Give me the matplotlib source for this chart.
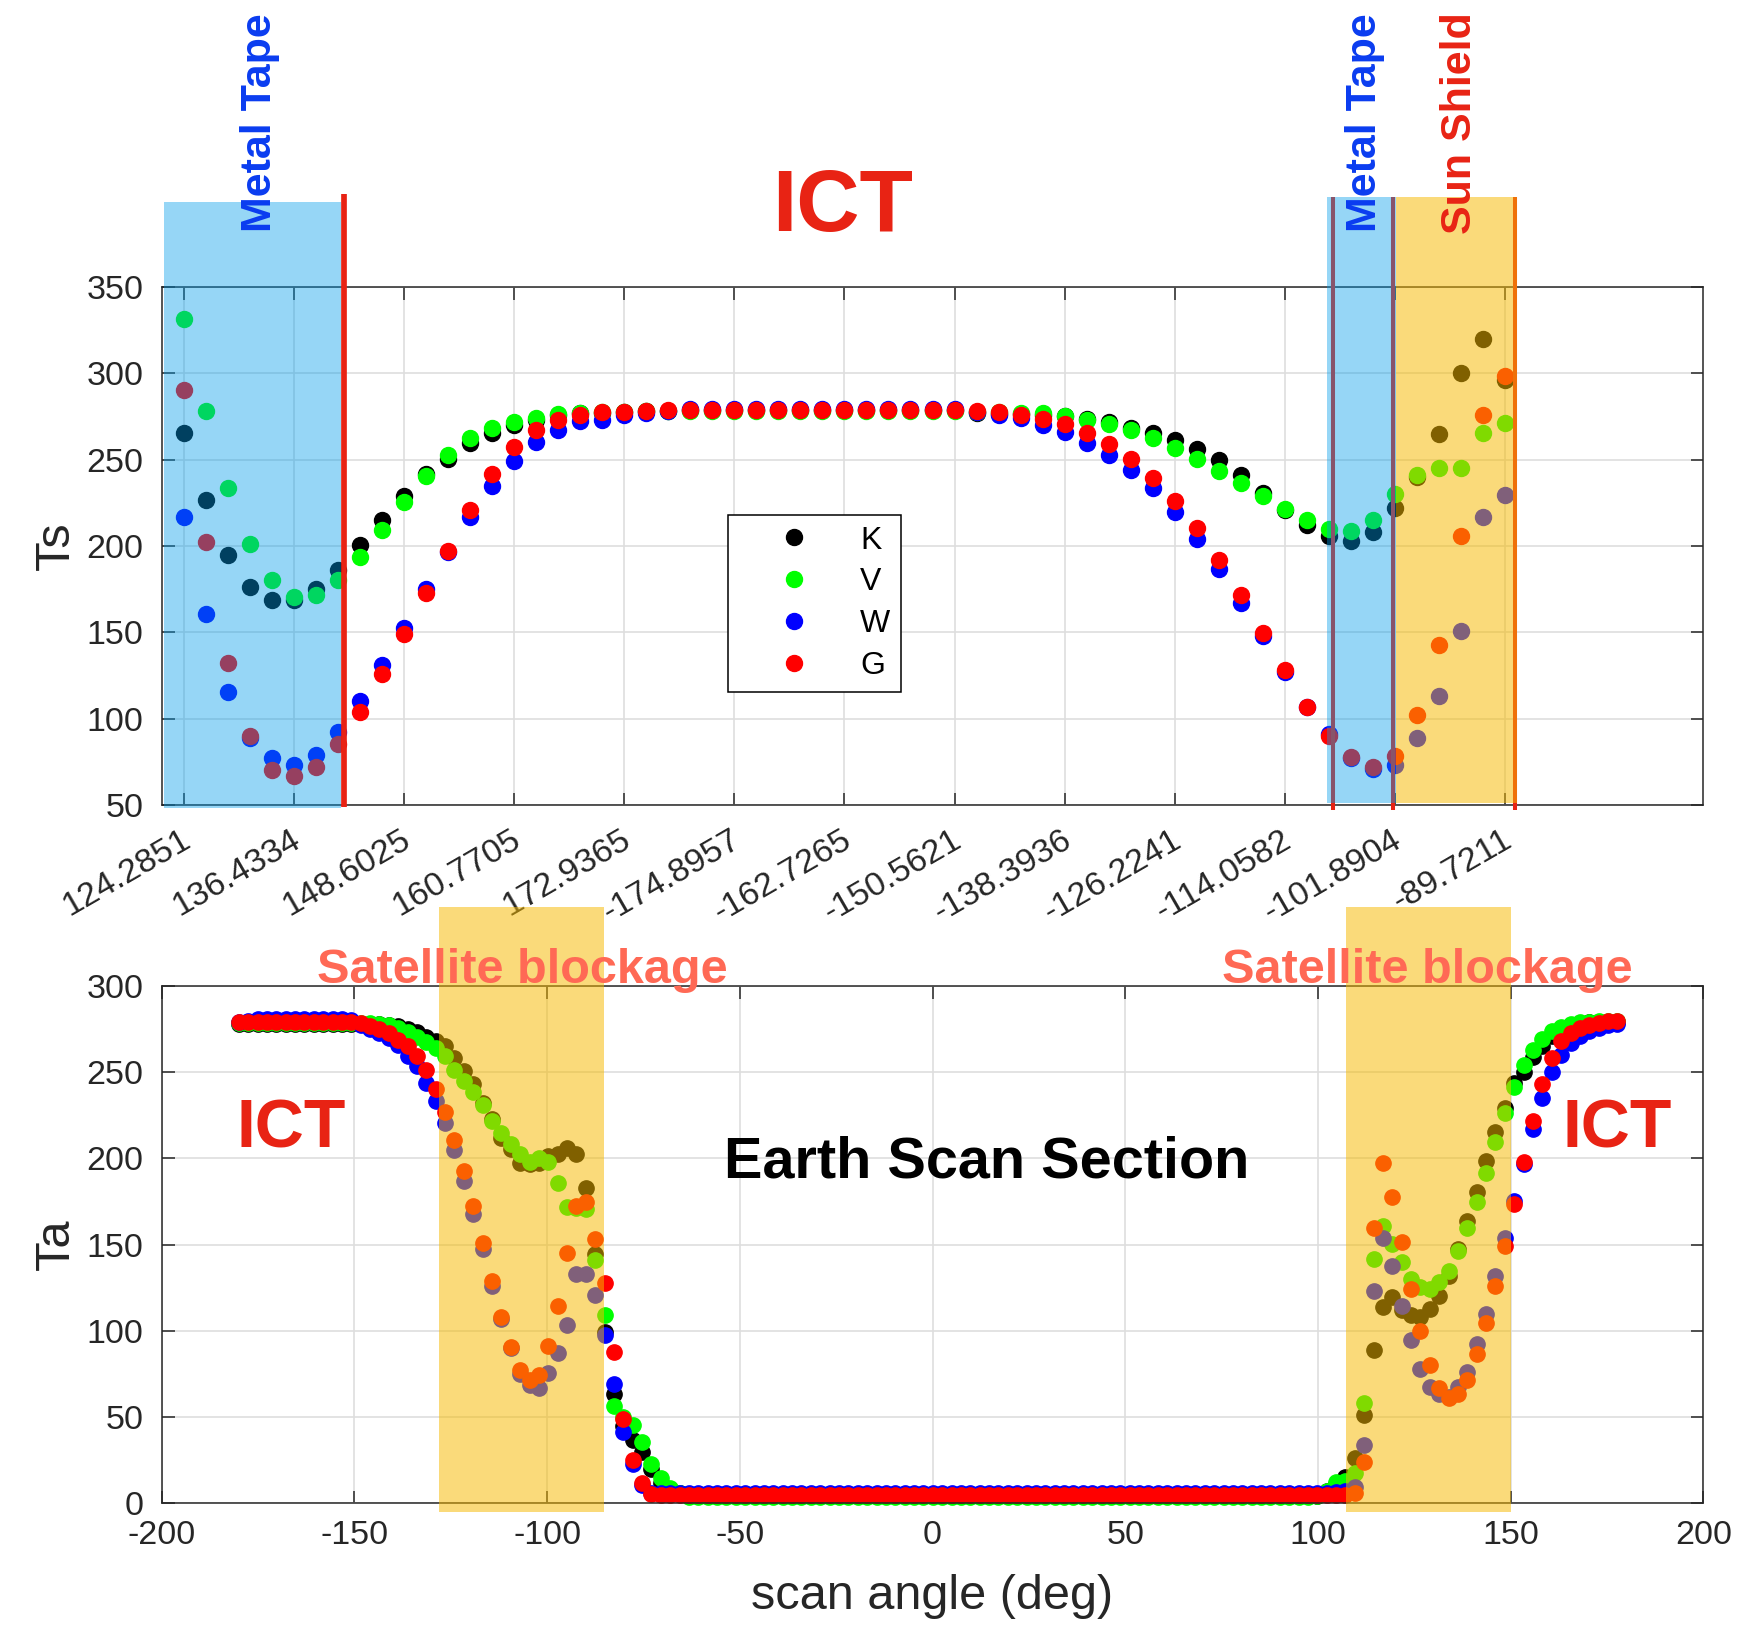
import numpy as np
import matplotlib.pyplot as plt
from matplotlib.patches import Rectangle
from matplotlib.transforms import ScaledTranslation

plt.rcParams['font.family'] = ['Liberation Sans', 'DejaVu Sans']
plt.rcParams['axes.unicode_minus'] = False

channels = ['K', 'V', 'W', 'G']
channel_colors = ['#000000', '#00ff00', '#0000ff', '#ff0000']

# --- ICT view: Ts per sample (61 samples), every 5th labelled by scan angle
ts_tick_labels = ['124.2851', '136.4334', '148.6025', '160.7705', '172.9365',
                  '-174.8957', '-162.7265', '-150.5621', '-138.3936', '-126.2241',
                  '-114.0582', '-101.8904', '-89.7211']

ts_k = [265.4, 226.9, 194.5, 176.4, 168.7, 168.5, 175.2, 186.0, 200.3, 215.3,
        228.8, 241.7, 250.5, 259.6, 265.4, 270.2, 273.0, 275.8, 277.0, 277.0,
        277.5, 278.0, 278.3, 278.5, 278.5, 278.5, 278.5, 278.5, 278.5, 278.5,
        278.5, 278.5, 278.5, 278.5, 278.5, 278.5, 277.0, 276.5, 276.5, 276.0,
        275.0, 273.7, 271.6, 268.3, 265.4, 261.2, 256.4, 250.0, 241.3, 230.7,
        221.0, 212.4, 205.7, 202.8, 208.0, 222.2, 240.0, 265.0, 300.1, 320.0,
        295.9]
ts_v = [331.5, 278.3, 233.6, 201.4, 180.2, 170.6, 171.6, 180.2, 193.5, 209.0,
        225.3, 240.7, 252.5, 262.5, 268.3, 271.6, 274.1, 276.4, 277.0, 277.4,
        277.6, 278.0, 278.0, 278.3, 278.3, 278.3, 278.3, 278.3, 278.3, 278.3,
        278.3, 278.3, 278.3, 278.3, 278.3, 278.3, 277.7, 277.4, 277.0, 277.0,
        275.4, 272.7, 270.8, 267.0, 262.5, 256.7, 250.4, 243.3, 236.5, 229.2,
        221.5, 215.3, 210.1, 208.6, 215.3, 229.9, 241.3, 245.4, 245.4, 265.4,
        271.2]
ts_w = [216.7, 160.4, 115.7, 89.0, 77.0, 73.3, 79.0, 92.4, 110.3, 131.0,
        152.7, 174.9, 196.7, 216.7, 234.6, 249.4, 260.0, 267.0, 272.2, 273.1,
        276.0, 277.0, 278.0, 279.5, 279.5, 279.5, 279.5, 279.5, 279.5, 279.5,
        279.5, 279.5, 279.5, 279.5, 279.5, 279.5, 277.5, 276.0, 274.0, 270.2,
        265.8, 259.6, 252.9, 244.2, 233.6, 219.6, 204.3, 186.4, 167.2, 148.0,
        127.0, 107.0, 91.0, 77.0, 70.8, 73.0, 88.7, 113.0, 151.0, 216.9,
        229.8]
ts_g = [290.5, 202.6, 132.5, 90.1, 70.4, 67.0, 72.2, 85.6, 104.0, 125.7,
        148.8, 173.0, 197.0, 221.1, 241.9, 257.3, 267.3, 272.7, 276.0, 277.4,
        277.6, 278.3, 278.5, 279.0, 279.0, 279.0, 279.0, 279.0, 279.0, 279.0,
        279.0, 279.0, 279.0, 279.0, 279.0, 279.0, 278.0, 277.4, 276.0, 273.5,
        270.8, 265.4, 259.2, 250.4, 239.4, 226.3, 210.5, 191.8, 171.4, 149.8,
        128.0, 107.0, 90.1, 77.6, 71.8, 78.5, 102.0, 142.7, 205.7, 276.0,
        298.6]

# --- full scan: Ta per sample, first sample at -180 deg, 2.4334 deg apart
scan_start = -180.0
scan_step = 2.4334

ta_k = [278.0, 278.0, 278.0, 278.0, 278.0, 278.0, 278.0, 278.0, 278.0, 278.0,
        278.0, 278.0, 278.0, 278.0, 278.0, 278.0, 277.5, 276.5, 275.0, 273.0,
        270.5, 267.8, 265.0, 258.2, 250.5, 242.8, 232.2, 222.5, 212.0, 205.2,
        197.5, 196.5, 197.5, 201.3, 202.3, 206.2, 202.3, 182.5, 144.5, 99.0,
        63.6, 45.0, 36.6, 29.9, 20.0, 12.0, 8.0, 6.0, 4.0, 4.0,
        4.0, 4.0, 4.0, 4.0, 4.0, 4.0, 4.0, 4.0, 4.0, 4.0,
        4.0, 4.0, 4.0, 4.0, 4.0, 4.0, 4.0, 4.0, 4.0, 4.0,
        4.0, 4.0, 4.0, 4.0, 4.0, 4.0, 4.0, 4.0, 4.0, 4.0,
        4.0, 4.0, 4.0, 4.0, 4.0, 4.0, 4.0, 4.0, 4.0, 4.0,
        4.0, 4.0, 4.0, 4.0, 4.0, 4.0, 4.0, 4.0, 4.0, 4.0,
        4.0, 4.0, 4.0, 4.0, 4.0, 4.0, 4.0, 4.0, 4.0, 4.0,
        4.0, 4.0, 4.0, 4.0, 4.0, 4.5, 7.0, 11.0, 15.4, 26.0,
        51.0, 88.6, 113.7, 119.5, 111.8, 108.9, 107.9, 112.7, 120.4, 132.0,
        147.4, 163.8, 180.2, 198.5, 215.2, 229.3, 243.4, 250.0, 258.8, 265.0,
        270.7, 275.0, 277.5, 278.5, 279.0, 279.2, 279.2, 279.2]
ta_v = [278.3, 278.3, 278.3, 278.3, 278.3, 278.3, 278.3, 278.3, 278.3, 278.3,
        278.3, 278.3, 278.3, 278.5, 278.3, 277.8, 277.0, 275.5, 273.0, 270.5,
        267.5, 264.0, 259.0, 251.4, 244.7, 238.3, 230.6, 221.6, 214.8, 208.1,
        202.3, 197.9, 200.4, 198.1, 185.9, 171.5, 171.0, 170.5, 141.2, 109.2,
        56.5, 50.0, 45.3, 35.5, 23.0, 14.5, 9.0, 6.0, 3.5, 3.5,
        3.5, 3.5, 3.5, 3.5, 3.5, 3.5, 3.5, 3.5, 3.5, 3.5,
        3.5, 3.5, 3.5, 3.5, 3.5, 3.5, 3.5, 3.5, 3.5, 3.5,
        3.5, 3.5, 3.5, 3.5, 3.5, 3.5, 3.5, 3.5, 3.5, 3.5,
        3.5, 3.5, 3.5, 3.5, 3.5, 3.5, 3.5, 3.5, 3.5, 3.5,
        3.5, 3.5, 3.5, 3.5, 3.5, 3.5, 3.5, 3.5, 3.5, 3.5,
        3.5, 3.5, 3.5, 3.5, 3.5, 3.5, 3.5, 3.5, 3.5, 3.5,
        3.5, 3.5, 3.5, 3.5, 3.5, 4.5, 7.0, 12.5, 13.0, 17.3,
        58.2, 141.6, 160.9, 150.3, 139.7, 130.1, 125.2, 124.3, 128.1, 134.9,
        146.4, 159.3, 174.8, 191.7, 209.4, 226.4, 241.2, 253.8, 263.0, 269.2,
        273.6, 276.1, 278.0, 278.8, 279.2, 279.4, 279.5, 279.5]
ta_w = [279.2, 279.5, 280.5, 280.5, 280.5, 280.5, 280.5, 280.5, 280.5, 280.5,
        280.5, 280.5, 280.0, 277.5, 275.0, 272.6, 269.7, 265.9, 259.0, 253.4,
        243.7, 233.1, 220.6, 204.8, 186.9, 167.6, 147.4, 126.2, 107.0, 90.0,
        75.0, 68.4, 66.9, 75.5, 87.1, 103.5, 133.0, 133.0, 120.8, 97.7,
        69.4, 41.4, 23.0, 10.6, 6.0, 5.8, 5.8, 5.8, 5.8, 5.8,
        5.8, 5.8, 5.8, 5.8, 5.8, 5.8, 5.8, 5.8, 5.8, 5.8,
        5.8, 5.8, 5.8, 5.8, 5.8, 5.8, 5.8, 5.8, 5.8, 5.8,
        5.8, 5.8, 5.8, 5.8, 5.8, 5.8, 5.8, 5.8, 5.8, 5.8,
        5.8, 5.8, 5.8, 5.8, 5.8, 5.8, 5.8, 5.8, 5.8, 5.8,
        5.8, 5.8, 5.8, 5.8, 5.8, 5.8, 5.8, 5.8, 5.8, 5.8,
        5.8, 5.8, 5.8, 5.8, 5.8, 5.8, 5.8, 5.8, 5.8, 5.8,
        5.8, 5.8, 5.8, 5.8, 5.8, 5.8, 6.0, 6.5, 7.0, 9.6,
        33.7, 123.3, 153.8, 137.8, 114.6, 94.4, 78.0, 67.4, 63.6, 61.7,
        67.4, 76.1, 92.5, 109.8, 132.0, 153.6, 175.3, 196.5, 216.8, 235.0,
        249.9, 260.1, 266.9, 270.7, 273.5, 275.5, 277.0, 278.0]
ta_g = [279.0, 279.0, 279.0, 279.0, 279.0, 279.0, 279.0, 279.0, 279.0, 279.0,
        279.0, 279.0, 279.0, 278.4, 276.9, 275.0, 272.6, 268.8, 265.0, 259.0,
        251.4, 240.3, 226.8, 210.6, 192.5, 172.3, 150.9, 128.7, 107.9, 90.6,
        77.1, 71.3, 74.6, 90.9, 114.1, 145.1, 172.4, 174.4, 153.2, 127.6,
        87.7, 49.1, 25.0, 11.5, 5.5, 5.0, 5.0, 5.0, 5.0, 5.0,
        5.0, 5.0, 5.0, 5.0, 5.0, 5.0, 5.0, 5.0, 5.0, 5.0,
        5.0, 5.0, 5.0, 5.0, 5.0, 5.0, 5.0, 5.0, 5.0, 5.0,
        5.0, 5.0, 5.0, 5.0, 5.0, 5.0, 5.0, 5.0, 5.0, 5.0,
        5.0, 5.0, 5.0, 5.0, 5.0, 5.0, 5.0, 5.0, 5.0, 5.0,
        5.0, 5.0, 5.0, 5.0, 5.0, 5.0, 5.0, 5.0, 5.0, 5.0,
        5.0, 5.0, 5.0, 5.0, 5.0, 5.0, 5.0, 5.0, 5.0, 5.0,
        5.0, 5.0, 5.0, 5.0, 5.0, 5.0, 5.0, 5.0, 5.0, 5.8,
        24.1, 159.3, 197.5, 177.3, 151.3, 124.3, 99.6, 80.3, 66.9, 61.1,
        63.6, 71.7, 86.7, 104.6, 126.2, 148.9, 173.4, 197.9, 221.6, 242.8,
        258.2, 267.8, 272.6, 275.5, 277.5, 278.5, 279.3, 279.6]

ts_sample = np.arange(1, len(ts_k) + 1)
scan_angle = scan_start + scan_step * np.arange(len(ta_k))

DARK = '#262626'
RED = '#e82314'
BLUE_TXT = '#0a3cf0'
SALMON = '#ff6955'
SPAN_BLUE = '#009cea'
SPAN_YELLOW = '#f6b900'


def style_axes(ax, xpad):
    ax.grid(True, color='#dedede', linewidth=1.2)
    ax.set_axisbelow(True)
    for s in ax.spines.values():
        s.set_color(DARK)
        s.set_linewidth(1.1)
    ax.tick_params(direction='in', top=True, right=True, length=9, width=1.1,
                   color=DARK, labelcolor=DARK, labelsize=24.5)
    ax.tick_params(axis='x', pad=xpad)
    ax.tick_params(axis='y', pad=13)


def span(ax, x0, x1, y0, y1, color, alpha):
    ax.add_patch(Rectangle((x0, y0), x1 - x0, y1 - y0, facecolor=color,
                           edgecolor='none', alpha=alpha, zorder=4, clip_on=False))


def vline(ax, x, y0, y1, lw):
    ax.plot([x, x], [y0, y1], color=RED, lw=lw, zorder=3, clip_on=False,
            solid_capstyle='butt')


fig = plt.figure(figsize=(17.37, 16.25), dpi=100)
ax1 = fig.add_axes([0.0931, 0.5046, 0.8875, 0.3188])
ax2 = fig.add_axes([0.0931, 0.0749, 0.8875, 0.3185])

# ---------------- top panel: Ts vs ICT sample
for vals, name, color in zip([ts_k, ts_v, ts_w, ts_g], channels, channel_colors):
    ax1.plot(ts_sample, vals, 'o', ms=11.5, color=color, mec=color,
             ls='none', label=name, zorder=2)

ax1.set_xlim(0, 70)
ax1.set_ylim(50, 350)
ax1.set_yticks(range(50, 351, 50))
ax1.set_xticks(ts_sample[::5])
ax1.set_xticklabels(ts_tick_labels, rotation=30, ha='right')
style_axes(ax1, xpad=14)
shift = ScaledTranslation(0.12, 0, fig.dpi_scale_trans)
for lab in ax1.get_xticklabels():
    lab.set_transform(lab.get_transform() + shift)

ax1.set_ylabel('Ts', fontsize=35, color=DARK, va='baseline')
ax1.yaxis.set_label_coords(-0.0605, 0.5)

leg = ax1.legend(loc='upper left', bbox_to_anchor=(0.4193, 0.6831),
                 bbox_transform=fig.transFigure, borderaxespad=0,
                 fontsize=23, numpoints=1, handlelength=3.45, handletextpad=0.35,
                 borderpad=0.33, labelspacing=0.375, fancybox=False,
                 framealpha=1, edgecolor='black')
leg.get_frame().set_linewidth(1.1)

# metal tape / sun shield regions
span(ax1, 0.1, 8.15, 48.5, 399, SPAN_BLUE, 0.41)
vline(ax1, 8.27, 49, 404, 4.1)
vline(ax1, 53.2, 47, 402, 2.9)
vline(ax1, 55.92, 47, 402, 2.9)
vline(ax1, 61.45, 47, 402, 2.9)
span(ax1, 52.92, 56.03, 51.3, 402, SPAN_BLUE, 0.41)
span(ax1, 56.03, 61.55, 51.3, 402, SPAN_YELLOW, 0.52)

ax1.text(30.9, 382.7, 'ICT', fontsize=63, fontweight='bold', color=RED,
         ha='center', va='baseline', clip_on=False, zorder=6)
for x, label, color in [(4.95, 'Metal Tape', BLUE_TXT),
                        (55.14, 'Metal Tape', BLUE_TXT),
                        (59.44, 'Sun Shield', RED)]:
    ax1.text(x, 445, label, fontsize=31, fontweight='bold', color=color,
             rotation=90, rotation_mode='anchor', ha='center', va='baseline',
             clip_on=False, zorder=6)

# ---------------- bottom panel: Ta vs scan angle
for vals, name, color in zip([ta_k, ta_v, ta_w, ta_g], channels, channel_colors):
    ax2.plot(scan_angle, vals, 'o', ms=11, color=color, mec=color,
             ls='none', zorder=2, clip_on=False)

ax2.set_xlim(-200, 200)
ax2.set_ylim(0, 300)
ax2.set_xticks(range(-200, 201, 50))
ax2.set_yticks(range(0, 301, 50))
style_axes(ax2, xpad=12)

ax2.set_ylabel('Ta', fontsize=35, color=DARK, va='baseline')
ax2.yaxis.set_label_coords(-0.0605, 0.5)
ax2.set_xlabel('scan angle (deg)', fontsize=35, color=DARK, va='baseline')
ax2.xaxis.set_label_coords(0.5, -0.2033)

span(ax2, -128.0, -85.2, -5, 345.8, SPAN_YELLOW, 0.52)
span(ax2, 107.2, 150.0, -5, 345.8, SPAN_YELLOW, 0.52)

for x in (-106.5, 128.5):
    ax2.text(x, 301.6, 'Satellite blockage', fontsize=35, fontweight='bold',
             color=SALMON, ha='center', va='baseline', clip_on=False, zorder=6)
for x in (-166.5, 177.6):
    ax2.text(x, 206, 'ICT', fontsize=49, fontweight='bold', color=RED,
             ha='center', va='baseline', zorder=6)
ax2.text(14.1, 188.6, 'Earth Scan Section', fontsize=41.5, fontweight='bold',
         color='black', ha='center', va='baseline', zorder=6)

fig.savefig('out.png', dpi=100, facecolor='white')
